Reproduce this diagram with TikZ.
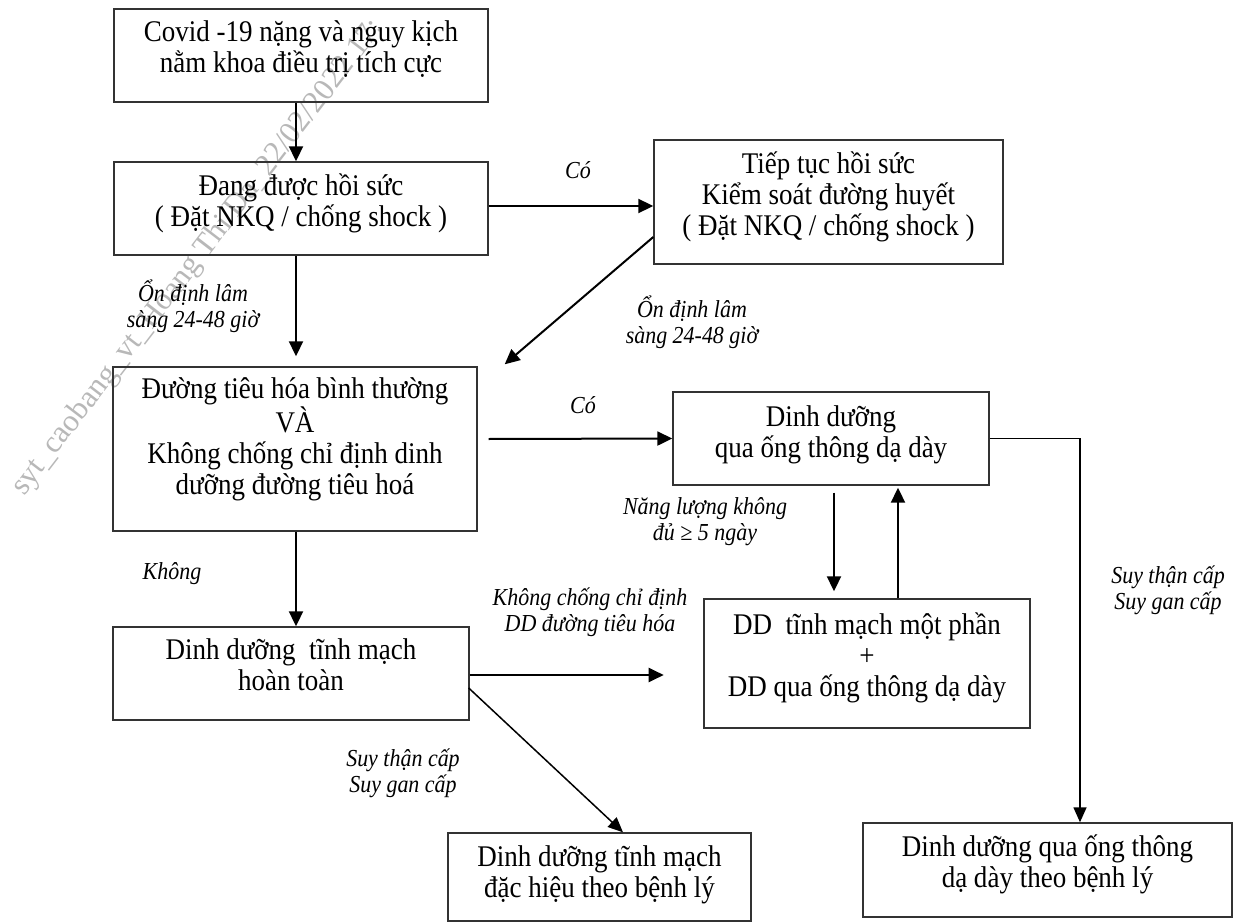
\documentclass[tikz,border=0pt]{standalone}
\usepackage{fontspec}
\setmainfont{Liberation Serif}[FakeStretch=0.9]
\newfontfamily\wmfont{Liberation Serif}
\usetikzlibrary{arrows.meta,calc}
\begin{document}
\begin{tikzpicture}[x=1pt,y=-1pt,
  box/.style={draw=black!80, line width=1.4pt, align=center, inner sep=0pt,
    font=\fontsize{30}{31}\selectfont, text depth=17pt},
  lbl/.style={align=center, inner sep=0pt, font=\fontsize{24.4}{26}\selectfont\itshape},
  arr/.style={line width=2pt, -{Triangle[width=14pt,length=15pt]}},
  arrthin/.style={line width=1.5pt, -{Triangle[width=13pt,length=15pt]}},
  wm/.style={text=black!28, inner sep=0pt, font=\wmfont\fontsize{31}{31}\selectfont}]
\useasboundingbox (0,0) rectangle (1235,923);
\fill[white] (0,0) rectangle (1235,923);

% watermark
\begin{scope}
\clip (0,0) rectangle (1235,923);
\node[wm, anchor=base west, rotate=52.5] (wm) at (24,497) {syt\_caobang\_vt\_Hoang Thi Da\_22/02/2022 17:};
\end{scope}

% boxes
\node[box, minimum width=374, minimum height=93] (b1) at (301,55.5)
  {Covid -19 nặng và nguy kịch\\nằm khoa điều trị tích cực};
\node[box, minimum width=374, minimum height=93] (b2) at (301,208.5)
  {Đang được hồi sức\\( Đặt NKQ / chống shock )};
\node[box, minimum width=349, minimum height=124] (b3) at (828.5,202)
  {Tiếp tục hồi sức\\Kiểm soát đường huyết\\( Đặt NKQ / chống shock )};
\node[box, minimum width=364, minimum height=164, text depth=26pt] (b4) at (295,449)
  {Đường tiêu hóa bình thường\\VÀ\\Không chống chỉ định dinh\\dưỡng đường tiêu hoá};
\node[box, minimum width=316, minimum height=93, text depth=13pt] (b5) at (831,438.5)
  {Dinh dưỡng\\qua ống thông dạ dày};
\node[box, minimum width=326, minimum height=129] (b6) at (867,663.5)
  {DD\ \ tĩnh mạch một phần\\+\\DD qua ống thông dạ dày};
\node[box, minimum width=356, minimum height=93] (b7) at (291,673.5)
  {Dinh dưỡng\ \ tĩnh mạch\\hoàn toàn};
\node[box, minimum width=303, minimum height=88, text depth=10pt] (b8) at (599.5,877)
  {Dinh dưỡng tĩnh mạch\\đặc hiệu theo bệnh lý};
\node[box, minimum width=369, minimum height=94] (b9) at (1047.5,870)
  {Dinh dưỡng qua ống thông\\dạ dày theo bệnh lý};

% helper coordinates
\coordinate (d1) at ($(b4.north east)+(27,-2)$);
\coordinate (f1) at ($(b7.east)+(194,1.5)$);
\coordinate (xr) at (1080,0);

% connectors
\draw[arr] ([xshift=-5pt]b1.south) -- ([xshift=-5pt]b2.north);
\draw[arr] ($(b2.east)+(0,-2.5)$) -- ($(b3.west)+(0,4)$);
\draw[arr] ([xshift=-5pt]b2.south) -- ($(b4.north)+(1,-10)$);
\draw[arr] ($(b3.west)+(0,35)$) -- (d1);
\draw[arr] ($(b4.east)+(11,-10)$) -- (b5.west);
\draw[arr] ($(b5.south)+(3,7)$) -- ($(b6.north)+(-33,-7)$);
\draw[arr] ($(b6.north)+(31,0)$) -- ($(b5.south)+(67,2)$);
\draw[arr] ([xshift=1pt]b4.south) -- ([xshift=5pt]b7.north);
\draw[arr] ($(b7.east)+(0,1.5)$) -- (f1);
\draw[arrthin] ($(b7.east)+(-1,14.5)$) -- ($(b8.north)+(23.5,0)$);
\draw[arrthin] (b5.east) -- (b5.east -| xr) -- (xr |- b9.north);

% labels
\node[lbl] (l1) at (578,170) {Có};
\node[lbl] (l2) at (193,306) {Ổn định lâm\\sàng 24-48 giờ};
\node[lbl] (l3) at (692,322) {Ổn định lâm\\sàng 24-48 giờ};
\node[lbl] (l4) at (583,405) {Có};
\node[lbl] (l5) at (705,522) {Năng lượng không\\đủ ≥ 5 ngày};
\node[lbl] (l6) at (172,574) {Không};
\node[lbl] (l7) at (590,612) {Không chống chỉ định\\DD đường tiêu hóa};
\node[lbl] (l8) at (403,773) {Suy thận cấp\\Suy gan cấp};
\node[lbl] (l9) at (1168,590) {Suy thận cấp\\Suy gan cấp};
\end{tikzpicture}
\end{document}
